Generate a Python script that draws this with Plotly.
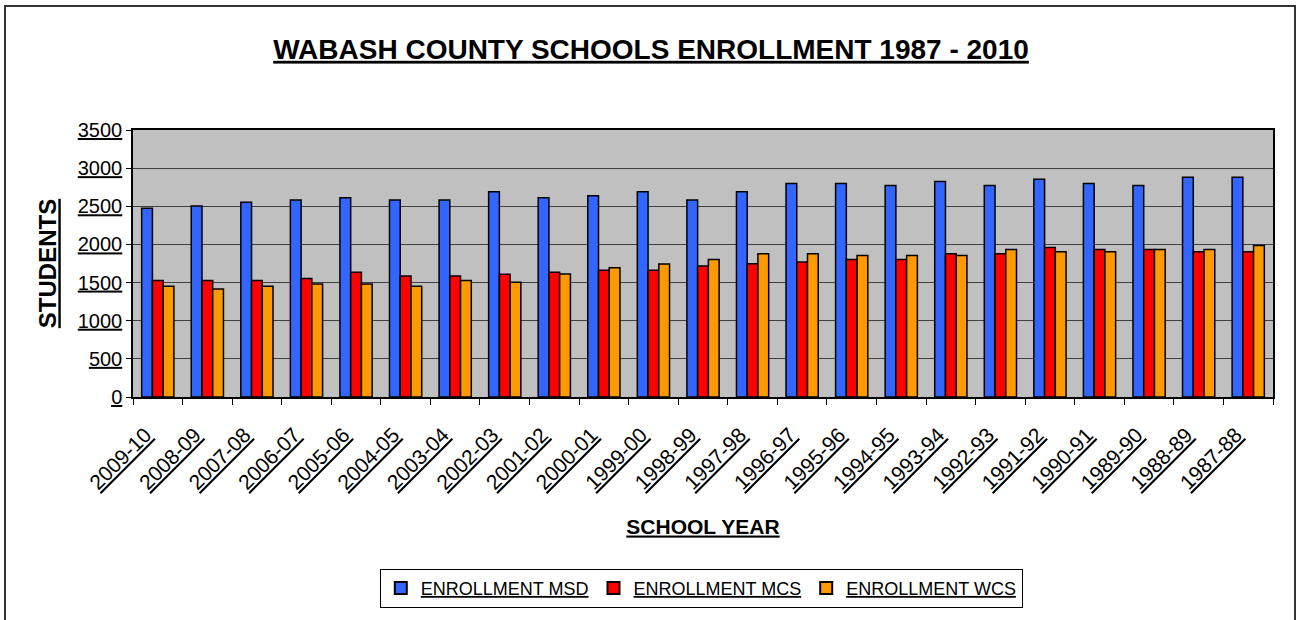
import plotly.graph_objects as go

years = ["2009-10", "2008-09", "2007-08", "2006-07", "2005-06", "2004-05", "2003-04",
         "2002-03", "2001-02", "2000-01", "1999-00", "1998-99", "1997-98", "1996-97",
         "1995-96", "1994-95", "1993-94", "1992-93", "1991-92", "1990-91", "1989-90",
         "1988-89", "1987-88"]
msd = [2473, 2504, 2552, 2582, 2613, 2582, 2582, 2691, 2613, 2639, 2691, 2582, 2691,
       2800, 2800, 2773, 2826, 2773, 2856, 2800, 2773, 2882, 2882]
mcs = [1526, 1526, 1526, 1552, 1634, 1587, 1587, 1608, 1634, 1661, 1661, 1717, 1748,
       1769, 1804, 1804, 1878, 1878, 1960, 1934, 1934, 1904, 1904]
wcs = [1452, 1417, 1452, 1482, 1482, 1452, 1526, 1504, 1613, 1695, 1743, 1804, 1878,
       1878, 1856, 1856, 1856, 1934, 1904, 1904, 1934, 1934, 1987]
series_names = ["ENROLLMENT MSD", "ENROLLMENT MCS", "ENROLLMENT WCS"]
series_colors = ["#3366FF", "#FF0000", "#FF9900"]
y_ticks = [0, 500, 1000, 1500, 2000, 2500, 3000, 3500]

FONT = "Arial, 'Liberation Sans', sans-serif"

fig = go.Figure()
for name, vals, col in zip(series_names, [msd, mcs, wcs], series_colors):
    fig.add_trace(go.Bar(
        x=years, y=vals, name="<u>" + name + "</u>",
        marker=dict(color=col, line=dict(color="black", width=1.5)),
    ))

fig.update_layout(
    width=1300, height=620,
    margin=dict(l=133, r=27, t=130, b=221),
    paper_bgcolor="white", plot_bgcolor="#C0C0C0",
    barmode="group", bargap=0.35, bargroupgap=0,
    font=dict(family=FONT, color="black"),
    title=dict(
        text="<b><u>WABASH COUNTY SCHOOLS ENROLLMENT 1987 - 2010</u></b>",
        x=651 / 1300, xanchor="center", xref="container",
        y=1 - 49 / 620, yanchor="middle", yref="container",
        font=dict(size=28, family=FONT, color="black"),
    ),
    legend=dict(
        orientation="h", x=0.4985, xanchor="center", y=(399 - 572) / 269, yanchor="top",
        bordercolor="black", borderwidth=1, bgcolor="white",
        font=dict(size=18, family=FONT, color="black"),
        itemsizing="constant", itemwidth=30,
    ),
    showlegend=True,
)

fig.update_xaxes(
    type="category",
    tickmode="array", tickvals=years,
    ticktext=["<u>" + y + "</u>\u00a0\u00a0\u00a0" for y in years],
    tickangle=-45, tickfont=dict(size=21, family=FONT, color="black"),
    ticks="outside", tickson="boundaries", ticklen=6, tickcolor="black", tickwidth=1,
    ticklabelstandoff=3,
    showline=True, linecolor="black", linewidth=2, mirror=True,
    showgrid=False,
    title=dict(text="<b><u>SCHOOL YEAR</u></b>", font=dict(size=21, family=FONT, color="black"),
               standoff=26),
)
fig.update_yaxes(
    range=[0, 3500],
    tickmode="array", tickvals=y_ticks, ticktext=["<u>" + str(v) + "</u>" for v in y_ticks],
    tickfont=dict(size=20, family=FONT, color="black"),
    ticks="outside", ticklen=5, tickcolor="black", tickwidth=1,
    showline=True, linecolor="black", linewidth=1.5, mirror=True,
    showgrid=True, gridcolor="#404040", gridwidth=1,
    zeroline=False,
    title=dict(text="<b><u>STUDENTS</u></b>", font=dict(size=24, family=FONT, color="black"),
               standoff=14),
)

# outer chart frame
fig.add_shape(type="rect", xref="paper", yref="paper",
              x0=(5 - 133) / 1140, x1=(1295 - 133) / 1140,
              y0=(399 - 630) / 269, y1=(399 - 5) / 269,
              line=dict(color="#333333", width=2), fillcolor="rgba(0,0,0,0)", layer="below")

fig.write_html("out.html", config={"displayModeBar": False},
               post_script="document.body.style.margin='0';")
